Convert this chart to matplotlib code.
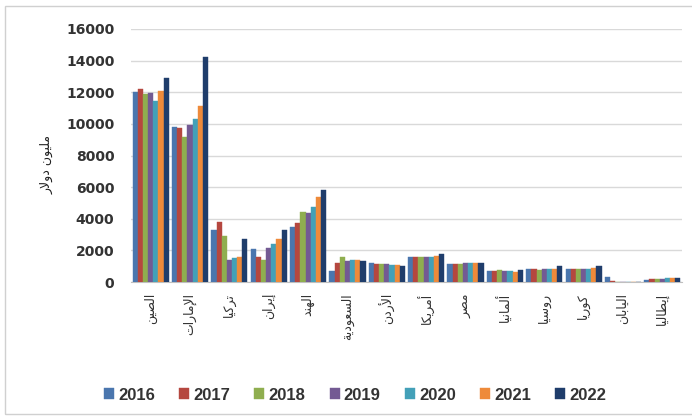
import matplotlib
matplotlib.use("Agg")
import matplotlib.pyplot as plt
import numpy as np
from matplotlib.patches import Rectangle

# ---------------- data ----------------
categories = ["الصين", "الإمارات", "تركيا", "إيران", "الهند", "السعودية", "الأردن",
              "أمريكا", "مصر", "ألمانيا", "روسيا", "كوريا", "اليابان", "إيطاليا"]
years = ["2016", "2017", "2018", "2019", "2020", "2021", "2022"]
v2016 = [12000, 9800, 3300, 2100, 3500, 720, 1200, 1550, 1150, 720, 800, 850, 300, 150]
v2017 = [12200, 9750, 3800, 1600, 3700, 1200, 1150, 1600, 1150, 700, 800, 800, 80, 200]
v2018 = [11900, 9200, 2900, 1400, 4450, 1600, 1150, 1600, 1150, 750, 750, 850, 30, 200]
v2019 = [11950, 9900, 1400, 2150, 4350, 1350, 1150, 1550, 1200, 700, 800, 850, 30, 200]
v2020 = [11450, 10300, 1500, 2400, 4750, 1400, 1100, 1600, 1200, 700, 850, 850, 30, 250]
v2021 = [12100, 11100, 1600, 2700, 5350, 1400, 1100, 1650, 1200, 650, 850, 900, 30, 250]
v2022 = [12900, 14200, 2700, 3300, 5800, 1350, 1000, 1750, 1200, 750, 1000, 1000, 30, 250]
series = [v2016, v2017, v2018, v2019, v2020, v2021, v2022]
y_label = "مليون دولار"

colors = ["#4A76AE", "#B5473F", "#8FAE4F", "#735A93", "#43A0B8", "#EE8A3A", "#1F3D6B"]

# ------------- minimal Arabic shaping (presentation forms) -------------
_dual = {'ب': 0xFE8F, 'ت': 0xFE95, 'ث': 0xFE99, 'ج': 0xFE9D, 'ح': 0xFEA1, 'خ': 0xFEA5,
         'س': 0xFEB1, 'ش': 0xFEB5, 'ص': 0xFEB9, 'ض': 0xFEBD, 'ط': 0xFEC1, 'ظ': 0xFEC5,
         'ع': 0xFEC9, 'غ': 0xFECD, 'ف': 0xFED1, 'ق': 0xFED5, 'ك': 0xFED9, 'ل': 0xFEDD,
         'م': 0xFEE1, 'ن': 0xFEE5, 'ه': 0xFEE9, 'ي': 0xFEF1}
_right = {'ا': 0xFE8D, 'آ': 0xFE81, 'أ': 0xFE83, 'إ': 0xFE87, 'د': 0xFEA9, 'ذ': 0xFEAB,
          'ر': 0xFEAD, 'ز': 0xFEAF, 'و': 0xFEED, 'ة': 0xFE93, 'ى': 0xFEEF}
_lamalef = {'ا': 0xFEFB, 'آ': 0xFEF5, 'أ': 0xFEF7, 'إ': 0xFEF9}


def shape(text):
    chars = list(text)
    merged = []
    i = 0
    while i < len(chars):
        if chars[i] == 'ل' and i + 1 < len(chars) and chars[i + 1] in _lamalef:
            merged.append(('LA', chars[i + 1]))
            i += 2
        else:
            merged.append(chars[i])
            i += 1

    def joins_left(c):
        return isinstance(c, str) and c in _dual

    def joins_right(c):
        return isinstance(c, tuple) or (isinstance(c, str) and (c in _dual or c in _right))

    out = []
    for k, c in enumerate(merged):
        prev = merged[k - 1] if k > 0 else None
        nxt = merged[k + 1] if k + 1 < len(merged) else None
        pj = prev is not None and joins_left(prev) and joins_right(c)
        if isinstance(c, tuple):
            out.append(chr(_lamalef[c[1]] + (1 if pj else 0)))
            continue
        nj = joins_left(c) and nxt is not None and joins_right(nxt)
        if c in _dual:
            base = _dual[c]
            if pj and nj:
                out.append(chr(base + 3))
            elif pj:
                out.append(chr(base + 1))
            elif nj:
                out.append(chr(base + 2))
            else:
                out.append(chr(base))
        elif c in _right:
            out.append(chr(_right[c] + (1 if pj else 0)))
        else:
            out.append(c)
    return "".join(reversed(out))


# ---------------- figure ----------------
fig = plt.figure(figsize=(6.92, 4.20), dpi=100)
fig.patch.set_facecolor("white")
ax = fig.add_axes([131 / 692, 138 / 420, 551 / 692, 253 / 420])

fig.patches.append(Rectangle((5 / 692, 6 / 420), 700 / 692, 408 / 420,
                             transform=fig.transFigure, fill=False,
                             edgecolor="#d0d0d0", linewidth=1.0))

n = len(series)
x = np.arange(len(categories))
w = 0.131
for i, (vals, col, yr) in enumerate(zip(series, colors, years)):
    ax.bar(x + (i - (n - 1) / 2) * w, vals, width=w, color=col, label=yr,
           edgecolor=col, linewidth=0.3, zorder=3)

ax.set_xlim(-0.5, len(categories) - 0.5)
ax.set_ylim(0, 16000)
ax.set_yticks(np.arange(0, 16001, 2000))
ax.set_yticklabels([str(v) for v in range(0, 16001, 2000)],
                   fontsize=10, fontweight="bold", color="#333333", family="DejaVu Sans")
ax.tick_params(axis="y", length=0, pad=12)
ax.grid(axis="y", color="#d9d9d9", linewidth=1.0, zorder=0)
for s in ["top", "right", "left"]:
    ax.spines[s].set_visible(False)
ax.spines["bottom"].set_color("#bfbfbf")

ax.set_xticks(x)
ax.set_xticklabels([shape(c) for c in categories], rotation=90, fontsize=9,
                   family="DejaVu Sans", color="#333333", va="top", ha="center")
ax.tick_params(axis="x", length=0, pad=8)

fig.text(47 / 692, 1 - 165 / 420, shape(y_label), rotation=90, ha="center", va="center",
         fontsize=9, family="DejaVu Sans", color="#222222")

leg = fig.legend(loc="center", bbox_to_anchor=(355 / 692, 1 - 395 / 420), ncol=7,
                 frameon=False, handlelength=0.6, handleheight=0.6, handletextpad=0.25,
                 columnspacing=1.45, prop={"family": "Liberation Sans", "weight": "bold", "size": 12})
for t in leg.get_texts():
    t.set_color("#333333")

fig.savefig("out.png", dpi=100, facecolor="white")
